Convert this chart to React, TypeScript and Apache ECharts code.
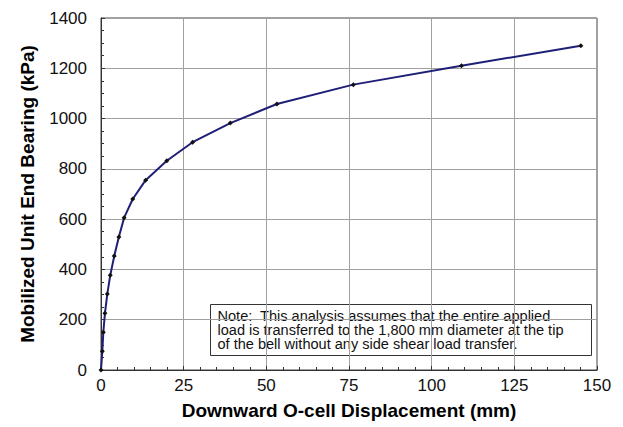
import React, { useEffect, useRef } from "react";
import * as echarts from "echarts";

const displacementMm = [0, 0.4, 0.7, 1.2, 1.9, 2.8, 4.0, 5.4, 7.0, 9.6, 13.5, 19.9, 27.7, 39.1, 53.2, 76.3, 109.0, 145.1];
const bearingKPa = [0, 75, 150, 226, 302, 377, 453, 529, 606, 680, 755, 832, 906, 982, 1058, 1135, 1210, 1290];
const noteLines = [
  "Note:  This analysis assumes that the entire applied",
  "load is transferred to the 1,800 mm diameter at the tip",
  "of the bell without any side shear load transfer.",
];
const xTitle = "Downward O-cell Displacement (mm)";
const yTitle = "Mobilized Unit End Bearing (kPa)";

export default function App() {
  const ref = useRef<HTMLDivElement>(null);
  useEffect(() => {
    document.body.style.margin = "0";
    const chart = echarts.init(ref.current!, null, { renderer: "svg" });
    const font = "'Liberation Sans', Arial, sans-serif";
    chart.setOption({
      animation: false,
      backgroundColor: "#ffffff",
      grid: { left: 101, right: 26, top: 18, bottom: 57, show: true, borderColor: "#444", borderWidth: 1, backgroundColor: "transparent" },
      xAxis: {
        type: "value",
        min: 0,
        max: 150,
        interval: 25,
        name: xTitle,
        nameLocation: "middle",
        nameGap: 31,
        nameTextStyle: { fontFamily: font, fontSize: 19, fontWeight: "bold", color: "#000" },
        axisLine: { show: true, lineStyle: { color: "#333", width: 1 } },
        axisTick: { show: true, inside: true, length: 4, lineStyle: { color: "#333" } },
        minorTick: { show: true, splitNumber: 5, length: 3, lineStyle: { color: "#333" } },
        axisLabel: { fontFamily: font, fontSize: 17, color: "#111", margin: 7, formatter: (v: number) => String(v) },
        splitLine: { show: true, lineStyle: { color: "#a0a0a0", width: 1 } },
      },
      yAxis: {
        type: "value",
        min: 0,
        max: 1400,
        interval: 200,
        name: yTitle,
        nameLocation: "middle",
        nameGap: 64,
        nameTextStyle: { fontFamily: font, fontSize: 19, fontWeight: "bold", color: "#000" },
        axisLine: { show: true, lineStyle: { color: "#333", width: 1 } },
        axisTick: { show: true, inside: true, length: 4, lineStyle: { color: "#333" } },
        minorTick: { show: true, splitNumber: 4, length: 3, lineStyle: { color: "#333" } },
        axisLabel: { fontFamily: font, fontSize: 17, color: "#111", margin: 14, formatter: (v: number) => String(v) },
        splitLine: { show: true, lineStyle: { color: "#a0a0a0", width: 1 } },
      },
      series: [
        {
          type: "line",
          data: displacementMm.map((x, i) => [x, bearingKPa[i]]),
          lineStyle: { color: "#1f1f78", width: 2 },
          symbol: "diamond",
          symbolSize: 5,
          itemStyle: { color: "#111" },
          z: 5,
        },
      ],
      graphic: [
        {
          type: "group",
          left: 210,
          top: 304,
          children: [
            { type: "rect", shape: { x: 0, y: 0, width: 381, height: 51 }, style: { fill: "#fff", stroke: "#333", lineWidth: 1 } },
            {
              type: "text",
              x: 7,
              y: 4,
              scaleX: 1.04,
              style: { text: noteLines.join("\n"), font: `14px ${font}`, fill: "#111", lineHeight: 14.3 },
            },
          ],
          z: 10,
        },
      ],
    });
    return () => chart.dispose();
  }, []);
  return <div ref={ref} style={{ width: 623, height: 427 }} />;
}
